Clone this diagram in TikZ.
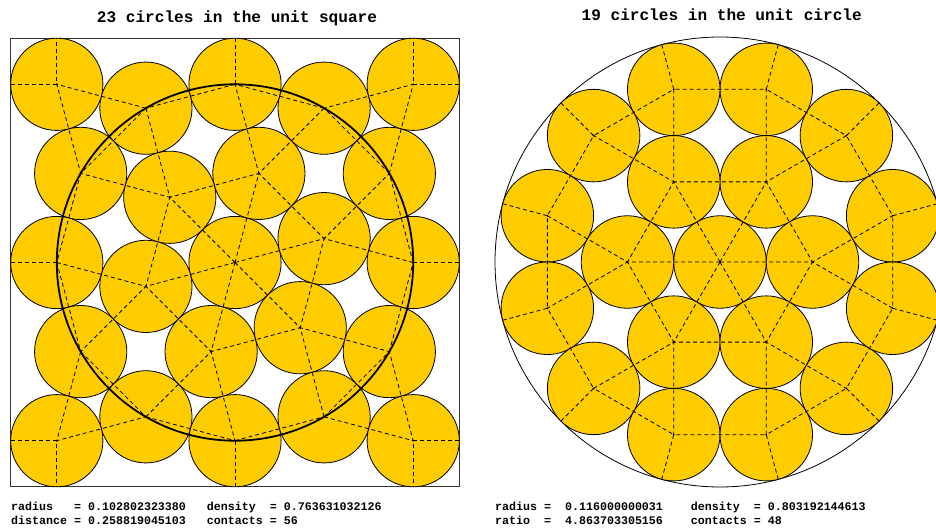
\documentclass[tikz,border=0pt]{standalone}
\usepackage{fontspec}
\setmonofont{Liberation Mono}
\usepackage{tikz}
\usetikzlibrary{positioning,calc}
\definecolor{discgold}{HTML}{FFCC00}

\begin{document}
\begin{tikzpicture}[
  x=1pt, y=1pt,
  every node/.style={align=center},
  disk/.style={circle, draw, line width=0.8pt, fill=discgold, inner sep=0pt},
  sqdisk/.style={disk, minimum size=92.23pt},
  crdisk/.style={disk, minimum size=92.52pt},
  box/.style={draw=black!80, line width=0.8pt, minimum size=448.6pt, inner sep=0pt, outer sep=0pt},
  rim/.style={circle, draw, line width=0.8pt, minimum size=450pt, inner sep=0pt, outer sep=0pt},
  contact/.style={line width=0.8pt, dash pattern=on 4pt off 3pt},
  heading/.style={font=\ttfamily\bfseries\fontsize{16.1}{19}\selectfont, anchor=base},
  stats/.style={font=\ttfamily\bfseries\fontsize{11.65}{14}\selectfont, anchor=base west, inner sep=0pt}
]
\useasboundingbox (0,0) rectangle (936,528);

% --- Titles ---
\node[heading] (ltitle) at (237,505.3) {23 circles in the unit square};
\node[heading] (rtitle) at (721.7,507.3) {19 circles in the unit circle};

% --- Left: square, centre, hexagon, ring of twelve, corners ---
\begin{scope}[shift={(235,265.5)}]
\node[box] (sq) at (0,0) {};
\node[sqdisk] (sc) at (0,0) {};
\foreach \a in {15,75,...,315} \node[sqdisk] (sh\a) at (\a:92.24) {};
\foreach \a in {0,30,...,330} \node[sqdisk] (sr\a) at (\a:178.19) {};
\foreach \a in {45,135,225,315} \node[sqdisk] (sk\a) at (\a:252.0) {};

% contacts
\foreach \a in {0,30,...,330} {
  \pgfmathtruncatemacro\nxt{mod(\a+30,360)}
  \draw[contact] (sr\a.center) -- (sr\nxt.center);
  \fill (sr\a.center) circle[radius=1pt];
}
\foreach \a in {15,75,...,315} {
  \pgfmathtruncatemacro\nxt{mod(\a+60,360)}
  \pgfmathtruncatemacro\lo{\a-15}
  \pgfmathtruncatemacro\hi{\a+15}
  \draw[contact] (sc.center) -- (sh\a.center) -- (sh\nxt.center)
    (sr\lo.center) -- (sh\a.center) -- (sr\hi.center);
  \fill (sh\a.center) circle[radius=1pt];
}
\foreach \a in {45,135,225,315} {
  \pgfmathtruncatemacro\lo{\a-15}
  \pgfmathtruncatemacro\hi{\a+15}
  \draw[contact] (sr\lo.center) -- (sk\a.center) -- (sr\hi.center);
  \fill (sk\a.center) circle[radius=1pt];
}
\fill (sc.center) circle[radius=1pt];

% wall contacts
\draw[contact] (sk45.center -| sq.east) -- (sk45.center) -- (sk45.center |- sq.north);
\draw[contact] (sk135.center -| sq.west) -- (sk135.center) -- (sk135.center |- sq.north);
\draw[contact] (sk225.center -| sq.west) -- (sk225.center) -- (sk225.center |- sq.south);
\draw[contact] (sk315.center -| sq.east) -- (sk315.center) -- (sk315.center |- sq.south);
\draw[contact] (sr0.center) -- (sq.east) (sr90.center) -- (sq.north)
  (sr180.center) -- (sq.west) (sr270.center) -- (sq.south);

\draw[line width=1.8pt] (sc.center) circle[radius=178.19];
\end{scope}

% --- Right: unit circle, centre, hexagon, ring of twelve ---
\begin{scope}[shift={(720,266)}]
\node[rim] (rim) at (0,0) {};
\node[crdisk] (cc) at (0,0) {};
\foreach \a in {0,60,...,300} \node[crdisk] (ch\a) at (\a:92.52) {};
\foreach \a in {15,45,...,345} \node[crdisk] (co\a) at (\a:178.74) {};

% contacts
\foreach \a in {0,60,...,300} {
  \pgfmathtruncatemacro\nxt{mod(\a+60,360)}
  \pgfmathtruncatemacro\lo{mod(\a+345,360)}
  \pgfmathtruncatemacro\hi{\a+15}
  \draw[contact] (cc.center) -- (ch\a.center) -- (ch\nxt.center)
    (co\lo.center) -- (ch\a.center) -- (co\hi.center);
  \fill (ch\a.center) circle[radius=1pt];
}
\foreach \a in {15,45,...,345} {
  \pgfmathtruncatemacro\nxt{mod(\a+30,360)}
  \draw[contact] (rim.\a) -- (co\a.center) -- (co\nxt.center);
  \fill (co\a.center) circle[radius=1pt];
}
\fill (cc.center) circle[radius=1pt];
\end{scope}

% --- Figures below the panels ---
\node[stats] (lrad) at (11,17.5) {radius\ \ \ = 0.102802323380\ \ \ density\ \ = 0.763631032126};
\node[stats] (ldist) at (11,3.4) {distance = 0.258819045103\ \ \ contacts = 56};
\node[stats] (rrad) at (495,17.5) {radius =\ \ 0.116000000031\ \ \ \ density\ \ = 0.803192144613};
\node[stats] (rratio) at (495,3.4) {ratio\ \ =\ \ 4.863703305156\ \ \ \ contacts = 48};

\end{tikzpicture}
\end{document}
